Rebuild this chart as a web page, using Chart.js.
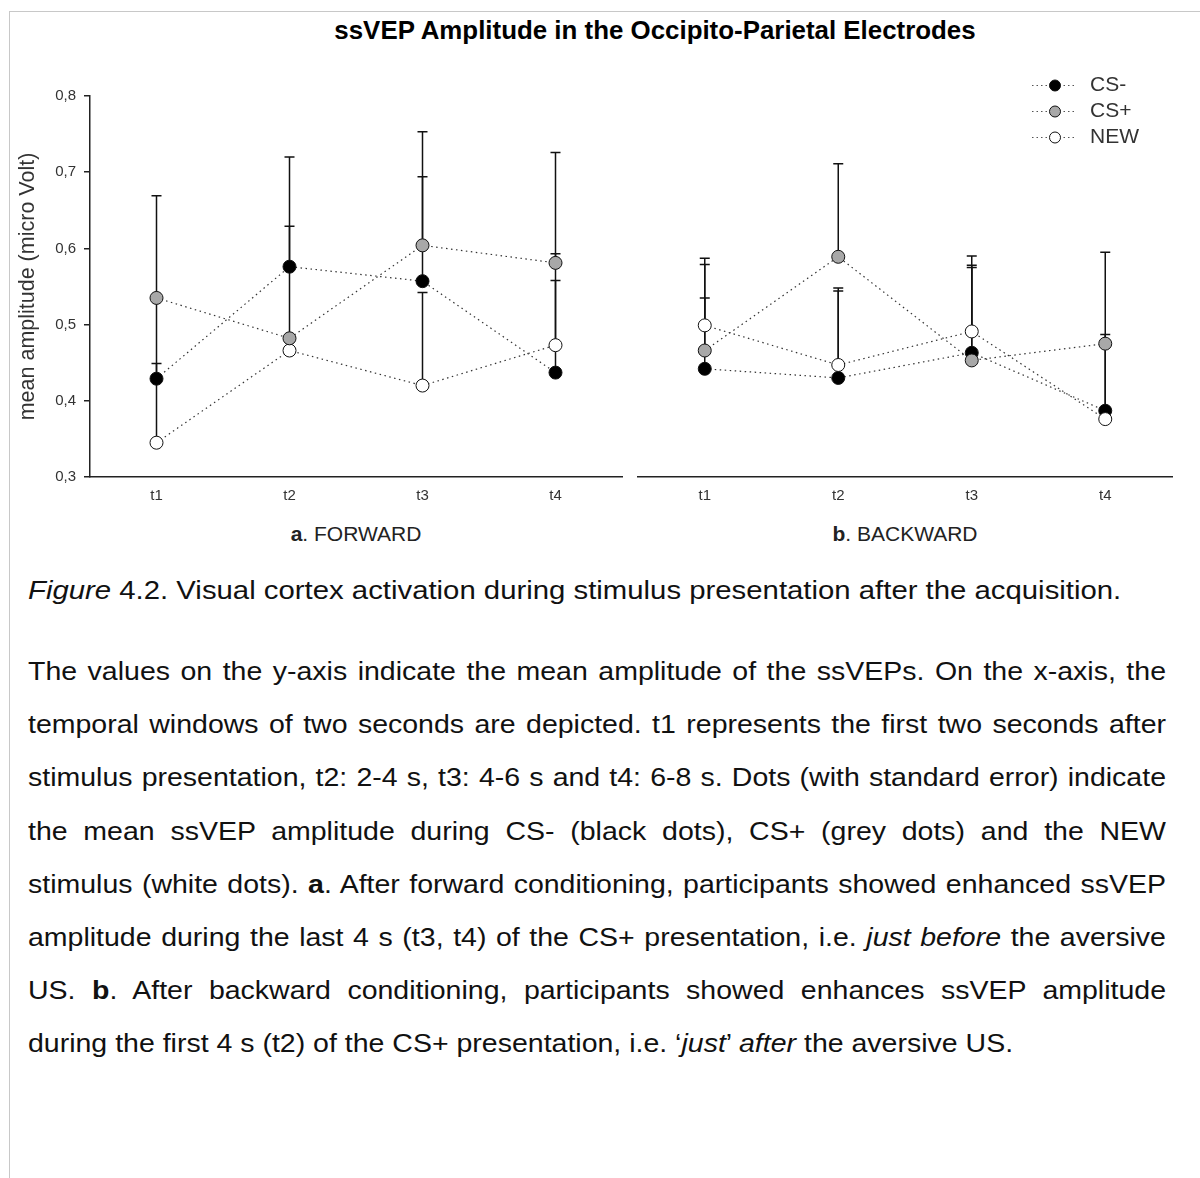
<!DOCTYPE html>
<html>
<head>
<meta charset="utf-8">
<script src="https://cdn.jsdelivr.net/npm/chart.js@4.4.0/dist/chart.umd.min.js"></script>
<style>
  body { margin: 0; background: #fff; font-family: "Liberation Sans", Arial, sans-serif; }
  #page { position: relative; width: 1200px; height: 1178px; overflow: hidden; }
  #frame { position: absolute; left: 9px; top: 11px; width: 1400px; height: 1400px;
           border-top: 1px solid #c8c8c8; border-left: 1px solid #c8c8c8; }
  #title { position: absolute; left: 10px; width: 1290px; top: 16px; text-align: center;
           font-weight: bold; font-size: 25px; color: #000; transform: scaleX(1.035); transform-origin: 645px 0; }
  .panel { position: absolute; top: 0; height: 520px; }
  #fwdBox { left: 0; width: 630px; }
  #bwdBox { left: 630px; width: 570px; }
  .xname { position: absolute; top: 522px; font-size: 21px; color: #222; text-align: center; }
  #legend { position: absolute; left: 1030px; top: 72px; font-size: 21px; color: #333; }
  #legend div { height: 26px; line-height: 24px; white-space: nowrap; }
  #legend canvas { vertical-align: middle; margin-right: 12px; }
  #caption { position: absolute; left: 28px; top: 576px; font-size: 25px; color: #111;
             white-space: nowrap; transform: scaleX(1.173); transform-origin: 0 0; }
  #text { position: absolute; left: 28px; top: 650px; font-size: 25px; color: #111;
          transform: scaleX(1.14); transform-origin: 0 0; }
  #text div { height: 53.2px; line-height: 42px; white-space: nowrap; }
  #text span.ln { display: inline-block; white-space: nowrap; }
</style>
</head>
<body>
<div id="page">
  <div id="frame"></div>
  <div id="title">ssVEP Amplitude in the Occipito-Parietal Electrodes</div>
  <div class="panel" id="fwdBox"><canvas id="fwdChart"></canvas></div>
  <div class="panel" id="bwdBox"><canvas id="bwdChart"></canvas></div>
  <div class="xname" style="left:90px;width:532px;"><b>a</b>. FORWARD</div>
  <div class="xname" style="left:638px;width:534px;"><b>b</b>. BACKWARD</div>
  <div id="legend"></div>
  <div id="caption"><i>Figure</i> 4.2. Visual cortex activation during stimulus presentation after the acquisition.</div>
  <div id="text">
    <div><span class="ln">The values on the y-axis indicate the mean amplitude of the ssVEPs. On the x-axis, the</span></div>
    <div><span class="ln">temporal windows of two seconds are depicted. t1 represents the first two seconds after</span></div>
    <div><span class="ln">stimulus presentation, t2: 2-4 s, t3: 4-6 s and t4: 6-8 s. Dots (with standard error) indicate</span></div>
    <div><span class="ln">the mean ssVEP amplitude during CS- (black dots), CS+ (grey dots) and the NEW</span></div>
    <div><span class="ln">stimulus (white dots). <b>a</b>. After forward conditioning, participants showed enhanced ssVEP</span></div>
    <div><span class="ln">amplitude during the last 4 s (t3, t4) of the CS+ presentation, i.e. <i>just before</i> the aversive</span></div>
    <div><span class="ln">US. <b>b</b>. After backward conditioning, participants showed enhances ssVEP amplitude</span></div>
    <div><span>during the first 4 s (t2) of the CS+ presentation, i.e. ‘<i>just</i>’ <i>after</i> the aversive US.</span></div>
  </div>
</div>

<script>
// ---- data ----
const windows = ['t1', 't2', 't3', 't4'];
const yTicks = [0.3, 0.4, 0.5, 0.6, 0.7, 0.8];

// a. FORWARD - means and standard errors (bars drawn upward only)
const fwdCsMinus = [0.429, 0.576, 0.557, 0.437];
const fwdCsPlus  = [0.535, 0.482, 0.604, 0.581];
const fwdNew     = [0.345, 0.466, 0.420, 0.473];
const fwdCsMinusSE = [0.020, 0.144, 0.137, 0.121];
const fwdCsPlusSE  = [0.134, 0.147, 0.149, 0.145];
const fwdNewSE     = [0.193, 0.012, 0.122, 0.120];

// b. BACKWARD
const bwdCsMinus = [0.442, 0.430, 0.463, 0.387];
const bwdCsPlus  = [0.466, 0.589, 0.453, 0.475];
const bwdNew     = [0.499, 0.447, 0.491, 0.376];
const bwdCsMinusSE = [0.093, 0.114, 0.115, 0.089];
const bwdCsPlusSE  = [0.113, 0.122, 0.122, 0.120];
const bwdNewSE     = [0.088, 0.101, 0.099, 0.111];

const series = [
  { label: 'CS-', fill: '#000000', order: 2 },
  { label: 'CS+', fill: '#a8a8a8', order: 0 },
  { label: 'NEW', fill: '#ffffff', order: 1 }
];

const FONT = '"Liberation Sans", Arial, sans-serif';

function makeDatasets(values, errors) {
  return series.map((s, i) => ({
    label: s.label,
    data: values[i],
    se: errors[i],
    order: s.order,
    showLine: true,
    borderColor: '#333',
    borderWidth: 1.2,
    borderDash: [1.5, 3.5],
    pointRadius: 6.5,
    pointBorderWidth: 1,
    pointBorderColor: '#111',
    pointBackgroundColor: s.fill,
    tension: 0
  }));
}

// one-sided standard error bars, drawn under the points
const errorBars = {
  id: 'errorBars',
  beforeDatasetsDraw(chart) {
    const ctx = chart.ctx;
    const x = chart.scales.x, y = chart.scales.y;
    ctx.save();
    ctx.strokeStyle = '#111';
    ctx.lineWidth = 1.5;
    chart.data.datasets.forEach(ds => {
      ds.data.forEach((v, i) => {
        const px = x.getPixelForValue(i);
        const y0 = y.getPixelForValue(v);
        const y1 = y.getPixelForValue(v + ds.se[i]);
        ctx.beginPath();
        ctx.moveTo(px, y0);
        ctx.lineTo(px, y1);
        ctx.moveTo(px - 5, y1);
        ctx.lineTo(px + 5, y1);
        ctx.stroke();
      });
    });
    ctx.restore();
  }
};

function makeOptions(showY, padLeft, padRight) {
  return {
    responsive: true,
    maintainAspectRatio: false,
    animation: false,
    layout: { padding: { top: 96, left: padLeft, right: padRight, bottom: 0 } },
    plugins: { legend: { display: false }, tooltip: { enabled: false } },
    scales: {
      x: {
        type: 'category',
        labels: windows,
        offset: true,
        grid: { display: false },
        border: { display: true, color: '#222', width: 1.5 },
        ticks: { color: '#333', font: { family: FONT, size: 15 }, padding: 2 },
        afterFit: s => { s.height = 43; }
      },
      y: {
        display: showY,
        min: 0.3,
        max: 0.8,
        afterBuildTicks: s => { s.ticks = yTicks.map(v => ({ value: v })); },
        grid: { display: true, drawOnChartArea: false, drawTicks: true, tickLength: 6, color: '#222', lineWidth: 1.5 },
        border: { display: true, color: '#222', width: 1.5 },
        ticks: {
          color: '#333',
          font: { family: FONT, size: 15 },
          padding: 8,
          callback: v => v.toFixed(1).replace('.', ',')
        },
        title: {
          display: true,
          text: 'mean amplitude (micro Volt)',
          color: '#333',
          font: { family: FONT, size: 21.5 },
          padding: { top: 15, bottom: 0 }
        },
        afterFit: s => { s.width = showY ? 90 : 0; }
      }
    }
  };
}

new Chart(document.getElementById('fwdChart'), {
  type: 'line',
  data: { labels: windows, datasets: makeDatasets([fwdCsMinus, fwdCsPlus, fwdNew], [fwdCsMinusSE, fwdCsPlusSE, fwdNewSE]) },
  options: makeOptions(true, 0, 8),
  plugins: [errorBars]
});

new Chart(document.getElementById('bwdChart'), {
  type: 'line',
  data: { labels: windows, datasets: makeDatasets([bwdCsMinus, bwdCsPlus, bwdNew], [bwdCsMinusSE, bwdCsPlusSE, bwdNewSE]) },
  options: makeOptions(false, 8, 28),
  plugins: [errorBars]
});

// legend: dotted line through a marker, like the plotted series
const legend = document.getElementById('legend');
series.forEach(s => {
  const row = document.createElement('div');
  const c = document.createElement('canvas');
  c.width = 48; c.height = 16;
  const g = c.getContext('2d');
  g.strokeStyle = '#555';
  g.lineWidth = 1;
  g.setLineDash([1.5, 3]);
  g.beginPath(); g.moveTo(2, 8.5); g.lineTo(46, 8.5); g.stroke();
  g.setLineDash([]);
  g.fillStyle = s.fill;
  g.strokeStyle = '#111';
  g.beginPath(); g.arc(25, 8.5, 5.5, 0, Math.PI * 2); g.fill(); g.stroke();
  row.appendChild(c);
  row.appendChild(document.createTextNode(s.label));
  legend.appendChild(row);
});

// justify the paragraph lines by hand so every line break stays as in the figure
const lineWidth = 1138 / 1.14;
document.querySelectorAll('#text span.ln').forEach(span => {
  const gaps = (span.textContent.match(/ /g) || []).length;
  const natural = span.getBoundingClientRect().width / 1.14;
  span.style.wordSpacing = ((lineWidth - natural) / gaps) + 'px';
});
</script>
</body>
</html>
